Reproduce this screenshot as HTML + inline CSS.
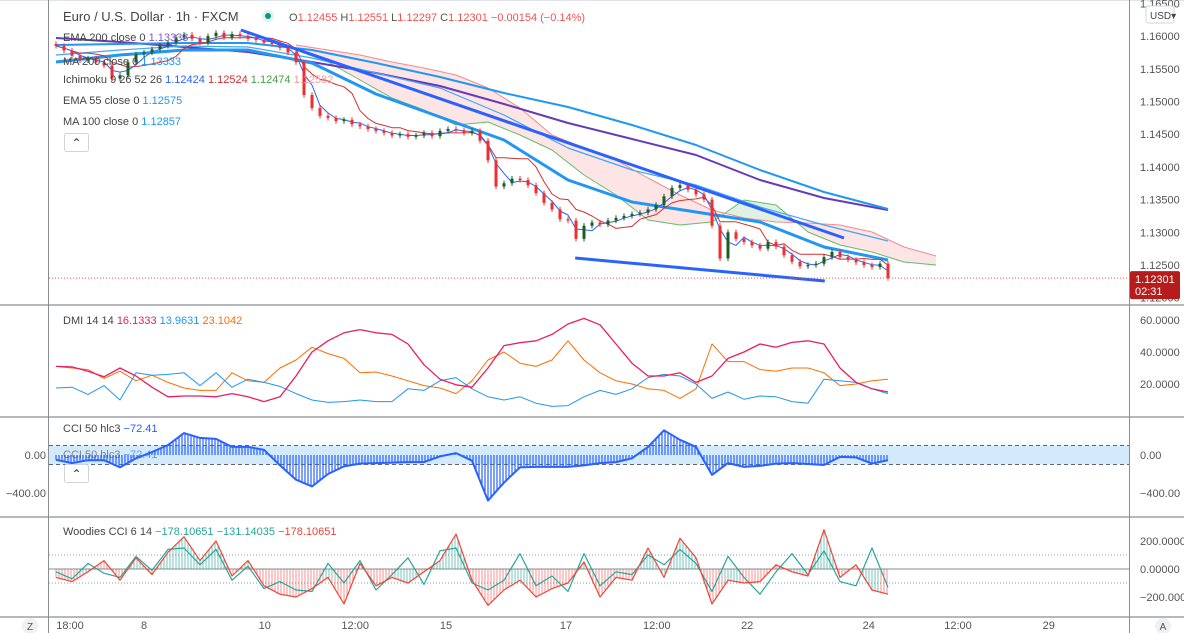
<!DOCTYPE html>
<html><head><meta charset="utf-8"><style>
html,body{margin:0;padding:0;background:#fff;width:1184px;height:633px;overflow:hidden}
svg{display:block;font-family:"Liberation Sans",sans-serif}
</style></head><body>
<svg id="c" width="1184" height="633" xmlns="http://www.w3.org/2000/svg"></svg>
<script>
// ---------- DATA ----------
const closes=[1.1585,1.1578,1.1570,1.1563,1.1566,1.1560,1.1555,1.1535,1.1540,1.1560,1.1572,1.1575,1.1580,1.1585,1.1590,1.1598,1.1602,1.1596,1.1590,1.1600,1.1605,1.1598,1.1603,1.1600,1.1596,1.1594,1.1590,1.1588,1.1582,1.1575,1.1560,1.1510,1.1490,1.1478,1.1475,1.1470,1.1472,1.1465,1.1462,1.1458,1.1455,1.1452,1.1448,1.1450,1.1446,1.1448,1.1452,1.1447,1.1455,1.1458,1.1456,1.1452,1.1455,1.1440,1.1410,1.1370,1.1375,1.1382,1.1380,1.1372,1.1360,1.1345,1.1335,1.1320,1.1318,1.1290,1.1310,1.1315,1.1312,1.1318,1.1322,1.1325,1.1328,1.1330,1.1335,1.1342,1.1355,1.1368,1.1372,1.1365,1.1358,1.1350,1.1310,1.1260,1.1300,1.1290,1.1285,1.1280,1.1275,1.1285,1.1278,1.1265,1.1255,1.1248,1.1250,1.1252,1.1262,1.1270,1.1262,1.1258,1.1254,1.1250,1.1247,1.1252,1.1230];
const ema200=[1.15971,1.15910,1.15833,1.15757,1.15604,1.15436,1.15237,1.14962,1.14671,1.14427,1.14182,1.13800,1.13524,1.13341];
const ma200=[1.15864,1.15879,1.15894,1.15894,1.15787,1.15589,1.15375,1.15130,1.14916,1.14641,1.14335,1.13953,1.13616,1.13356];
const ma100=[1.15711,1.15787,1.15849,1.15833,1.15665,1.15436,1.15206,1.14794,1.14289,1.13953,1.13723,1.13387,1.13112,1.12867];
const ema55=[1.15604,1.15711,1.15787,1.15787,1.15589,1.15115,1.14763,1.14412,1.13800,1.13463,1.13310,1.13157,1.12775,1.12576];
const spanB=[1.15864,1.15787,1.15711,1.15604,1.15512,1.15405,1.15206,1.14900,1.14488,1.14289,1.14105,1.13830,1.13570,1.13341,1.13219,1.13157,1.13142,1.13112,1.13005,1.12775,1.12638];
const spanA=[1.15787,1.15604,1.15329,1.15053,1.14870,1.14641,1.14687,1.14488,1.14258,1.13876,1.13570,1.13188,1.13112,1.13157,1.13494,1.13417,1.13005,1.12806,1.12699,1.12546,1.12500];
const trendUpper=[[23.1,1.16093],[98.5,1.12913]];
const trendLower=[[64.9,1.12607],[96.1,1.12255]];
const adx=[31,30.7,28,24.5,30,25,18,12,12.5,12.5,12,14,12,9,12,25,40,47,52,54,52,51,45,32,23,19.5,18,30,44,45.8,47,51,57.5,61,57,45,33,25,25,27,21,25,36,40,45,43,46,47,45,30,21,17,15];
const diPlus=[17.5,18,13.5,19,10,27,25.5,26,27,19,27,18,23,21,18.5,14,10,8.5,9,10,9,9,17,16,22,24,17,12,10,12,8,6,6.5,12,16,13.5,17,24,26,25,20,11,15,10.5,12.5,12,9,8,23,22,21,17,14];
const diMinus=[31,30,29,23.5,28,22,25.5,21,17.5,16,16,27,22,21,30,35,43,39,36,27,27.5,25,22,19,17.5,14,22,35,40,33,31,35,47,35,27,22,20,17,16,11,17,45,34,34,29,28,30,30,27,19,20,22,23];
const cci50=[-50,-85,-55,-55,-130,-35,30,105,230,180,170,85,85,55,-110,-260,-330,-200,-120,-90,-85,-80,-75,-75,-15,20,-60,-480,-290,-130,-125,-125,-125,-110,-85,-75,-35,85,260,160,85,-210,-85,-125,-115,-90,-85,-95,-105,-20,-25,-90,-55];
const wcciFast=[-60,-90,-20,60,-80,80,-40,120,230,60,200,-50,60,-120,-180,-200,-140,-60,-250,40,-120,-60,-100,-20,60,250,-80,-260,-150,-80,-200,-140,-100,50,-200,-60,-80,150,-60,220,80,-250,-80,-100,-90,30,-20,-50,280,-60,30,-150,-180];
const wcciSlow=[-20,-70,40,-30,-60,90,-10,140,150,30,140,-80,20,-140,-90,-150,-160,40,-100,60,-150,-40,80,-110,130,150,-100,-150,-80,110,-120,-50,-160,110,-120,-20,-40,100,30,140,40,-160,90,-60,-180,-20,110,-40,130,-90,-120,150,-131];
const priceTicks=["1.16500","1.16000","1.15500","1.15000","1.14500","1.14000","1.13500","1.13000","1.12500","1.12000"];
const priceTickVals=[1.165,1.16,1.155,1.15,1.145,1.14,1.135,1.13,1.125,1.12];
const dmiTicks=[60,40,20];
const wTicks=[200,0,-200];
const timeLabels=["18:00","8","10","12:00","15","17","12:00","22","24","12:00","29"];
const timeBars=[1.75,11,26.1,37.4,48.75,63.75,75.1,86.4,101.6,112.75,124.1];

// ---------- AXES ----------
const X0=56,BW=8;
const bx=i=>X0+i*BW;
const py=p=>265-(p-1.125)/0.005*32.7;
const dy=v=>416-v*1.6;
const cy=v=>455-v*0.095;
const wy=v=>569-v*0.14;

const svg=document.getElementById('c');
const NS='http://www.w3.org/2000/svg';
function mk(tag,at,parent){const e=document.createElementNS(NS,tag);for(const k in at)e.setAttribute(k,at[k]);(parent||svg).appendChild(e);return e;}
function txt(x,y,s,fill,size,anchor,name,parent){const t=mk('text',{x:x,y:y,fill:fill,'font-size':size||12,'text-anchor':anchor||'start'},parent);t.textContent=s;


return t;}
function poly(pts,stroke,w,name,extra){const p=mk('polyline',Object.assign({points:pts.map(a=>a[0].toFixed(1)+','+a[1].toFixed(1)).join(' '),fill:'none',stroke:stroke,'stroke-width':w,'stroke-linejoin':'round'},extra||{}));


return p;}
function interp(arr,step,start,xpix){const f=(xpix-bx(start))/(step*BW);const i=Math.max(0,Math.min(arr.length-1,Math.floor(f)));const j=Math.min(arr.length-1,i+1);const t=Math.max(0,Math.min(1,f-i));return arr[i]+(arr[j]-arr[i])*t;}

mk('rect',{x:0,y:0,width:1184,height:633,fill:'#fff'});
mk('line',{x1:0,y1:0.5,x2:1184,y2:0.5,stroke:'#e0e3eb'});
[305,417,517,617].forEach(y=>mk('line',{x1:0,y1:y,x2:1184,y2:y,stroke:'#8a8d96','stroke-width':1.2}));
mk('line',{x1:48.5,y1:0,x2:48.5,y2:633,stroke:'#8a8d96'});
mk('line',{x1:1129.5,y1:0,x2:1129.5,y2:633,stroke:'#8a8d96'});

// ---------- MAIN PANE ----------
const main=mk('g',{'clip-path':'url(#cm)'});


const defs=mk('defs',{});const cp=mk('clipPath',{id:'cm'},defs);mk('rect',{x:49,y:1,width:1080,height:303},cp);
const cloudPts=[];
for(let x=bx(30);x<=bx(30+4*(spanA.length-1));x+=2){cloudPts.push([x,interp(spanA,4,30,x),interp(spanB,4,30,x)]);}
for(let k=0;k<cloudPts.length-1;k++){const a=cloudPts[k],b=cloudPts[k+1];const green=a[1]>a[2];
 const q=mk('polygon',{points:`${a[0]},${py(a[1])} ${b[0]},${py(b[1])} ${b[0]},${py(b[2])} ${a[0]},${py(a[2])}`,fill:green?'#c8e6c9':'#fbd0d0','fill-opacity':0.55,stroke:'none'},main);
 
 }
poly(spanA.map((v,i)=>[bx(30+i*4),py(v)]),'#66bb6a',1,'ichimoku-span-a');main.appendChild(svg.lastChild);
poly(spanB.map((v,i)=>[bx(30+i*4),py(v)]),'#f28b8b',1,'ichimoku-span-b');main.appendChild(svg.lastChild);
poly(ema200.map((v,i)=>[bx(i*8),py(v)]),'#673ab7',2,'ema-200-line');main.appendChild(svg.lastChild);
poly(ma200.map((v,i)=>[bx(i*8),py(v)]),'#2196f3',2,'ma-200-line');main.appendChild(svg.lastChild);
poly(ma100.map((v,i)=>[bx(i*8),py(v)]),'#42a5f5',1.2,'ma-100-line');main.appendChild(svg.lastChild);
poly(ema55.map((v,i)=>[bx(i*8),py(v)]),'#2196f3',3,'ema-55-line');main.appendChild(svg.lastChild);
function midline(w){return closes.map((c,i)=>{const s=closes.slice(Math.max(0,i-w+1),i+1);return (Math.max(...s)+Math.min(...s))/2;});}
const tenkan=midline(3),kijun=midline(8);
poly(kijun.map((v,i)=>[bx(i),py(v)]),'#d32f2f',1,'kijun-line');main.appendChild(svg.lastChild);
poly(tenkan.map((v,i)=>[bx(i),py(v)]),'#2962ff',1,'tenkan-line');main.appendChild(svg.lastChild);
closes.forEach((c,i)=>{const o=i?closes[i-1]:c+0.0003;const up=c>=o;const col=up?'#1b5e20':'#ef2f2f';
 const hi=Math.max(o,c)+0.0004,lo=Math.min(o,c)-0.0004;const x=bx(i);
 const g=mk('g',{},main);
 
 
 mk('line',{x1:x,y1:py(hi),x2:x,y2:py(lo),stroke:col,'stroke-width':1},g);
 const y1=py(Math.max(o,c)),y2=py(Math.min(o,c));
 mk('rect',{x:x-1.5,y:y1,width:3,height:Math.max(1,y2-y1),fill:col},g);});
[trendUpper,trendLower].forEach((t,k)=>{poly(t.map(a=>[bx(a[0]),py(a[1])]),'#2962ff',3,k?'lower-trendline':'upper-trendline');const l=svg.lastChild;main.appendChild(l);});
const lastP=closes[closes.length-1];
mk('line',{x1:49,y1:py(lastP),x2:1129,y2:py(lastP),stroke:'#ef5350','stroke-dasharray':'1,2'},main);

priceTicks.forEach((s,i)=>txt(1140,py(priceTickVals[i])+4,s,'#555',11,'start','price-tick-label'));
const lb=mk('rect',{x:1130,y:py(lastP)-7,width:50,height:28,fill:'#b71c1c',rx:2});

txt(1135,py(lastP)+5,'1.12301','#fff',11,'start','last-price-value');
txt(1135,py(lastP)+17,'02:31','#fff',11,'start','bar-countdown');
const ub=mk('rect',{x:1146,y:6,width:28,height:17,fill:'#fff',stroke:'#d1d4dc',rx:2});

txt(1150,19,'USD▾','#444',10,'start','currency-dropdown-label');

txt(63,21,'Euro / U.S. Dollar · 1h · FXCM','#444',13,'start','symbol-title');
const dot=mk('circle',{cx:268,cy:16,r:6,fill:'#e0f2f1'});
mk('circle',{cx:268,cy:16,r:3,fill:'#089981'});
const ohlc=mk('text',{x:289,y:21,'font-size':11,fill:'#ef5350'});
ohlc.innerHTML='<tspan fill="#555">O</tspan>1.12455 <tspan fill="#555">H</tspan>1.12551 <tspan fill="#555">L</tspan>1.12297 <tspan fill="#555">C</tspan>1.12301 −0.00154 (−0.14%)';
const leg=[['EMA 200 close 0','1.13333','#7e57c2',41],['MA 200 close 0','1.13333','#2196f3',65],['EMA 55 close 0','1.12575','#2196f3',104],['MA 100 close 0','1.12857','#2196f3',125]];
leg.forEach(l=>{const t=mk('text',{x:63,y:l[3],'font-size':11,fill:'#444'});t.innerHTML=l[0]+'  <tspan fill="'+l[2]+'">'+l[1]+'</tspan>';});
const ich=mk('text',{x:63,y:83,'font-size':11,fill:'#444'});
ich.innerHTML='Ichimoku 9 26 52 26  <tspan fill="#2962ff">1.12424</tspan>  <tspan fill="#d32f2f">1.12524</tspan>  <tspan fill="#43a047">1.12474</tspan>  <tspan fill="#ef9a9a">1.12582</tspan>';
const cb=mk('rect',{x:64.5,y:133.5,width:24,height:18,fill:'#fff',stroke:'#d1d4dc',rx:2});
txt(76.5,147,'⌃','#333',12,'middle','collapse-icon');

// ---------- DMI ----------
const sx=i=>bx(i*2);
poly(diMinus.map((v,i)=>[sx(i),dy(v)]),'#ff6d00',1,'di-minus-line');
poly(diPlus.map((v,i)=>[sx(i),dy(v)]),'#2196f3',1,'di-plus-line');
poly(adx.map((v,i)=>[sx(i),dy(v)]),'#e91e63',1.3,'adx-line');
dmiTicks.forEach(v=>txt(1140,dy(v)+4,v.toFixed(4),'#555',11,'start','dmi-tick-label'));
const dl=mk('text',{x:63,y:324,'font-size':11,fill:'#444'});
dl.innerHTML='DMI 14 14  <tspan fill="#e91e63">16.1333</tspan>  <tspan fill="#2196f3">13.9631</tspan>  <tspan fill="#ff6d00">23.1042</tspan>';

// ---------- CCI 50 ----------
const band=mk('rect',{x:49,y:cy(100),width:1080,height:cy(-100)-cy(100),fill:'#d3e9fc'});
[100,-100].forEach(v=>mk('line',{x1:49,y1:cy(v),x2:1129,y2:cy(v),stroke:'#666','stroke-dasharray':'4,3'}));
const hg=mk('g',{});
for(let x=bx(0);x<=bx(104);x+=3){const v=interp(cci50,2,0,x);mk('line',{x1:x,y1:cy(0),x2:x,y2:cy(v),stroke:'#2962ff','stroke-width':1.2},hg);}
poly(cci50.map((v,i)=>[sx(i),cy(v)]),'#2962ff',2,'cci-line');
txt(1140,cy(0)+4,'0.00','#555',11,'start','cci-tick-label');
txt(1140,cy(-400)+4,'−400.00','#555',11,'start','cci-tick-label');
txt(46,cy(0)+4,'0.00','#555',11,'end','cci-left-tick-label');
txt(46,cy(-400)+4,'−400.00','#555',11,'end','cci-left-tick-label');
[432,458].forEach((y,k)=>{const t=mk('text',{x:63,y:y,'font-size':11,fill:'#444','opacity':k?0.6:1});t.innerHTML='CCI 50 hlc3  <tspan fill="#2962ff">−72.41</tspan>';});
const cb2=mk('rect',{x:64.5,y:464.5,width:24,height:18,fill:'#fff',stroke:'#d1d4dc',rx:2});
txt(76.5,478,'⌃','#333',12,'middle','collapse-icon');

// ---------- WOODIES CCI ----------
[100,-100].forEach(v=>mk('line',{x1:49,y1:wy(v),x2:1129,y2:wy(v),stroke:'#999','stroke-dasharray':'1,2'}));
mk('line',{x1:49,y1:wy(0),x2:1129,y2:wy(0),stroke:'#888','stroke-width':1});
const wg=mk('g',{});
for(let x=bx(0);x<=bx(104);x+=3){const v=interp(wcciFast,2,0,x);const s=interp(wcciSlow,2,0,x);mk('line',{x1:x,y1:wy(0),x2:x,y2:wy(v),stroke:s>0?'#26a69a':'#ef5350','stroke-width':0.8,'stroke-opacity':0.8},wg);}
poly(wcciSlow.map((v,i)=>[sx(i),wy(v)]),'#26a69a',1.2,'woodies-cci-slow-line');
poly(wcciFast.map((v,i)=>[sx(i),wy(v)]),'#f44336',1.2,'woodies-cci-fast-line');
wTicks.forEach(v=>txt(1140,wy(v)+4,(v<0?'−200.0000':v.toFixed(5)),'#555',11,'start','woodies-tick-label'));
const wl=mk('text',{x:63,y:535,'font-size':11,fill:'#444'});
wl.innerHTML='Woodies CCI 6 14  <tspan fill="#26a69a">−178.10651</tspan>  <tspan fill="#26a69a">−131.14035</tspan>  <tspan fill="#f44336">−178.10651</tspan>';

// ---------- TIME AXIS ----------
timeLabels.forEach((s,i)=>txt(bx(timeBars[i]),629,s,'#555',11,'middle','time-tick-label'));
const z=mk('circle',{cx:30,cy:626,r:8,fill:'#eef0f3'});
txt(30,630,'Z','#555',10,'middle','zoom-label');
const a=mk('circle',{cx:1163,cy:626,r:8,fill:'#eef0f3'});
txt(1163,630,'A','#555',10,'middle','auto-scale-label');
</script>
</body></html>
